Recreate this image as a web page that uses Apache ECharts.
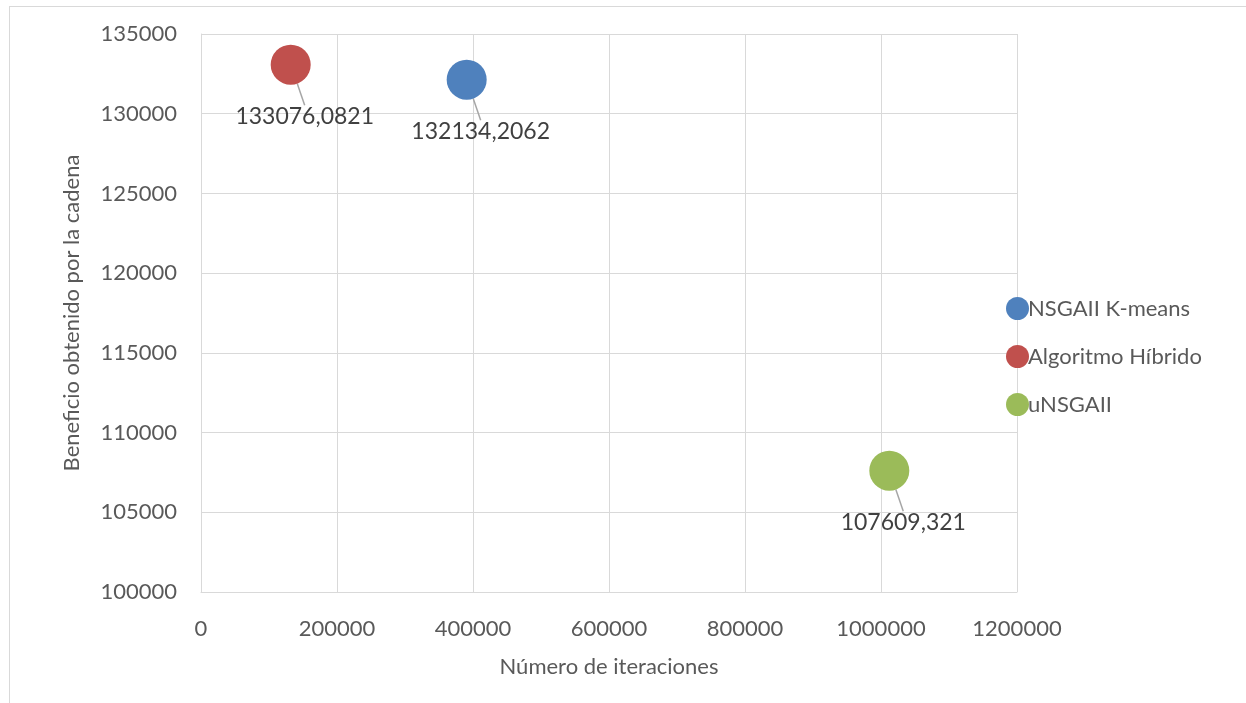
<!DOCTYPE html>
<html>
<head>
<meta charset="utf-8">
<script src="https://cdn.jsdelivr.net/npm/echarts@6/dist/echarts.min.js"></script>
<style>
html, body { margin: 0; padding: 0; background: #fff; }
#frame {
  position: absolute; left: 9px; top: 6px; width: 1300px; height: 800px;
  border: 1px solid #d9d9d9;
}
#chart { position: absolute; left: 0; top: 0; width: 1246px; height: 703px; }
</style>
</head>
<body>
<div id="frame"></div>
<div id="chart"></div>
<script>
// series, in legend order
const seriesNames = ['NSGAII K-means', 'Algoritmo Híbrido', 'uNSGAII']
const seriesColors = ['#4f81bd', '#c0504d', '#9bbb59']
const iteraciones = [390700, 131900, 1012200]
const beneficio = [132134.2062, 133076.0821, 107609.321]

const xTicks = [0, 1200000, 200000]   // min, max, interval
const yTicks = [100000, 135000, 5000]

const font = 'Lato, "Open Sans", sans-serif'

const chart = echarts.init(document.getElementById('chart'))

const series = seriesNames.map((name, i) => ({
  name: name,
  type: 'scatter',
  symbolSize: 40,
  itemStyle: { color: seriesColors[i], opacity: 1 },
  data: [[iteraciones[i], beneficio[i]]],
  label: {
    show: true,
    position: 'inside',
    fontFamily: font,
    fontSize: 23,
    color: '#404040',
    formatter: p => String(p.value[1]).replace('.', ',')
  },
  labelLayout: { dx: 14, dy: 52 },
  labelLine: {
    show: true,
    lineStyle: { color: '#a6a6a6', width: 1.5 }
  },
  emphasis: { disabled: true }
}))

chart.setOption({
  animation: false,
  textStyle: { fontFamily: font },
  grid: { left: 201, right: 229, top: 34, bottom: 111 },
  legend: {
    orient: 'vertical',
    left: 1001,
    top: 292,
    icon: 'circle',
    itemWidth: 23,
    itemHeight: 23,
    itemGap: 25,
    data: seriesNames,
    textStyle: { fontFamily: font, fontSize: 22, color: '#595959', padding: [0, 0, 0, -6] }
  },
  xAxis: {
    type: 'value',
    min: xTicks[0],
    max: xTicks[1],
    interval: xTicks[2],
    name: 'Número de iteraciones',
    nameLocation: 'middle',
    nameGap: 64,
    nameTextStyle: { fontFamily: font, fontSize: 22, color: '#595959' },
    axisLine: { show: true, lineStyle: { color: '#d9d9d9' } },
    axisTick: { show: false },
    axisLabel: { fontFamily: font, fontSize: 22, color: '#595959', margin: 26, formatter: v => String(v) },
    splitLine: { show: true, lineStyle: { color: '#d9d9d9', width: 1 } }
  },
  yAxis: {
    type: 'value',
    min: yTicks[0],
    max: yTicks[1],
    interval: yTicks[2],
    name: 'Beneficio obtenido por la cadena',
    nameLocation: 'middle',
    nameGap: 118,
    nameTextStyle: { fontFamily: font, fontSize: 22, color: '#595959' },
    axisLine: { show: true, lineStyle: { color: '#d9d9d9' } },
    axisTick: { show: false },
    axisLabel: { fontFamily: font, fontSize: 22, color: '#595959', margin: 24, formatter: v => String(v) },
    splitLine: { show: true, lineStyle: { color: '#d9d9d9', width: 1 } }
  },
  series: series
})
</script>
</body>
</html>
